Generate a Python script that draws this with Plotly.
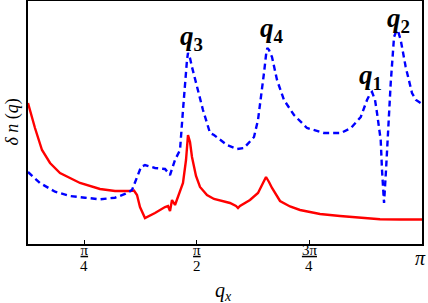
import math
import plotly.graph_objects as go

# x values in units of pi
red_x = [0.125, 0.1405, 0.1561, 0.1739, 0.1961, 0.2405, 0.2849, 0.3182, 0.3515, 0.3604,
         0.3671, 0.3737, 0.3848, 0.4070, 0.4293, 0.4359, 0.4404, 0.4448, 0.4515, 0.4559,
         0.4692, 0.4759, 0.4803, 0.4848, 0.4892, 0.4981, 0.5070, 0.5225, 0.5381, 0.5736,
         0.5869, 0.5914, 0.5958, 0.6180, 0.6358, 0.6469, 0.6536, 0.6602, 0.6669, 0.6847,
         0.7069, 0.7291, 0.7735, 0.8179, 0.8623, 0.9067, 0.9512, 1.0]
red_y = [141, 116, 94, 81, 71, 61, 55, 53, 53, 53.5,
         49, 37, 26, 31, 37, 38, 33, 44, 39, 44,
         61, 84, 109, 102, 87, 68, 57, 49, 45, 41,
         38, 36, 38, 44, 51, 61, 67, 62, 56, 43,
         37.5, 34, 30, 28, 26.3, 24.7, 24.5, 24.5]

blue_x = [0.125, 0.1516, 0.1850, 0.2183, 0.2516, 0.2849, 0.3182, 0.3404, 0.3560, 0.3671,
          0.3760, 0.3848, 0.4070, 0.4293, 0.4404, 0.4515, 0.4626, 0.4692, 0.4737, 0.4781,
          0.4803, 0.4848, 0.4892, 0.5003, 0.5136, 0.5292, 0.5381, 0.5669, 0.5892, 0.6047,
          0.6269, 0.6358, 0.6418, 0.6491, 0.6536, 0.6564, 0.6602, 0.6669, 0.6780, 0.6935,
          0.7157, 0.7446, 0.7823, 0.8201, 0.8423, 0.8639, 0.8779, 0.8846, 0.8890, 0.8957,
          0.9001, 0.9083, 0.9112, 0.9157, 0.9201, 0.9230, 0.9305, 0.9379, 0.9439, 0.9468,
          0.9527, 0.9638, 0.9778, 0.9867, 1.0]
blue_y = [72, 61, 52.3, 48, 46.3, 44.7, 46.3, 50, 54, 67,
          77, 79, 76, 75, 69, 84, 94, 134, 164, 184,
          191, 186, 177, 157, 134, 111, 109, 99, 95, 96,
          107, 124, 144, 171, 189, 196, 194, 187, 164, 144,
          129, 116, 111, 111, 116, 127, 144, 150, 152, 144,
          131, 104, 74, 41, 74, 101, 161, 207, 214, 213,
          204, 177, 151, 144, 140]

tick_vals = [0.25, 0.5, 0.75, 1.0]
tick_num = ["<u>π</u>", "<u>π</u>", "<u>3π</u>", ""]
tick_den = ["4", "2", "4", ""]
end_label = "<i>π</i>"

peak_labels = ["3", "4", "1", "2"]
peak_x = [0.4803, 0.6564, 0.8890, 0.9439]
peak_y = [191, 196, 152, 214]

fig = go.Figure()
fig.add_trace(go.Scatter(x=[v * math.pi for v in red_x], y=red_y, mode="lines",
                         line=dict(color="#ff0000", width=2.4), showlegend=False))
fig.add_trace(go.Scatter(x=[v * math.pi for v in blue_x], y=blue_y, mode="lines",
                         line=dict(color="#0000ff", width=2.4, dash="6px,4px"),
                         showlegend=False))

label_dx = [4, 5, -2, 2]
label_dy = [-4, -1, -4, -9]
for lab, px, py, dx, dy in zip(peak_labels, peak_x, peak_y, label_dx, label_dy):
    fig.add_annotation(x=px * math.pi, y=py, text="<b><i>q</i><sub>%s</sub></b>" % lab,
                       showarrow=False, xanchor="center", yanchor="bottom", yshift=dy,
                       xshift=dx,
                       font=dict(family="Liberation Serif", size=27, color="black"))

for tv, den in zip(tick_vals, tick_den):
    if den:
        fig.add_annotation(x=tv * math.pi, xref="x", yref="paper", y=-0.0905,
                           yanchor="middle", text=den, showarrow=False,
                           font=dict(family="Liberation Serif", size=15, color="black"))
fig.add_annotation(x=tick_vals[-1] * math.pi, xref="x", yref="paper", y=-0.0576,
                   yanchor="middle", text=end_label, showarrow=False, xshift=-2,
                   font=dict(family="Liberation Serif", size=20, color="black"))

fig.add_annotation(xref="paper", yref="paper", x=0.495, y=-0.195, yanchor="middle",
                   text="<i>q</i><sub><i>x</i></sub>", showarrow=False,
                   font=dict(family="Liberation Serif", size=20, color="black"))
fig.add_annotation(xref="paper", yref="paper", x=-0.0406, y=0.5, xanchor="center",
                   text="<i>δ n</i> (<i>q</i>)", showarrow=False, textangle=-90,
                   font=dict(family="Liberation Serif", size=18, color="black"))

fig.update_xaxes(range=[0.125 * math.pi, math.pi], tickvals=[v * math.pi for v in tick_vals],
                 ticktext=tick_num, ticks="inside", ticklen=4, tickwidth=1.2, tickcolor="black",
                 ticklabelstandoff=-9,
                 showline=True, linecolor="black", linewidth=1.6, mirror=True,
                 showgrid=False, zeroline=False, automargin=False,
                 tickfont=dict(family="Liberation Serif", size=15, color="black"))
fig.update_yaxes(range=[0, 243], showticklabels=False, ticks="",
                 showline=True, linecolor="black", linewidth=1.6, mirror=True,
                 showgrid=False, zeroline=False, automargin=False)
fig.update_layout(template="none", width=428, height=303,
                  margin=dict(l=28, r=6, t=1, b=59, autoexpand=False),
                  plot_bgcolor="white", paper_bgcolor="white")
fig.write_html("out.html", config={"displayModeBar": False},
               post_script="document.body.style.margin='0';document.body.style.overflow='hidden';")
